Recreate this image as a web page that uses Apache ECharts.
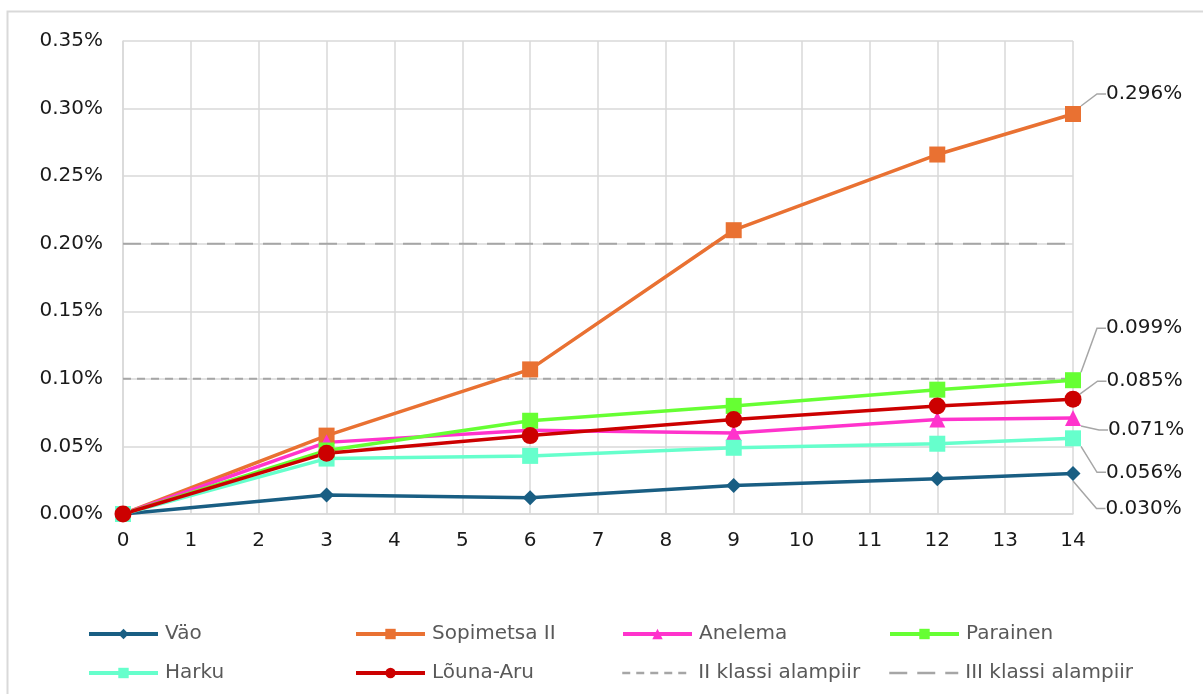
<!DOCTYPE html>
<html>
<head>
<meta charset="utf-8">
<script src="https://cdn.jsdelivr.net/npm/echarts@6/dist/echarts.min.js"></script>
<style>
  html, body { margin: 0; padding: 0; background: #ffffff; }
  #chart { width: 1203px; height: 694px; }
</style>
</head>
<body>
<div id="chart"></div>
<script>
// Measurement days (x) and concentration values in percent (y)
const days = [0, 3, 6, 9, 12, 14];
const vao        = [0, 0.014, 0.012, 0.021, 0.026, 0.030];
const sopimetsa  = [0, 0.058, 0.107, 0.210, 0.266, 0.296];
const anelema    = [0, 0.053, 0.062, 0.060, 0.070, 0.071];
const parainen   = [0, 0.047, 0.069, 0.080, 0.092, 0.099];
const harku      = [0, 0.041, 0.043, 0.049, 0.052, 0.056];
const lounaAru   = [0, 0.045, 0.058, 0.070, 0.080, 0.085];

// Class thresholds
const class2Limit = 0.10;
const class3Limit = 0.20;
const xRange = [0, 14];

const seriesNames = ['Väo', 'Sopimetsa II', 'Anelema', 'Parainen', 'Harku', 'Lõuna-Aru',
  'II klassi alampiir', 'III klassi alampiir'];
const limitNames = ['II klassi alampiir', 'III klassi alampiir'];

const FONT = 'DejaVu Sans';
const TEXT = '#1a1a1a';
const FS = 20;

// Offsets of the end-value callouts relative to their default spot
const calloutOffset = {
  'Väo': [20, 35],
  'Sopimetsa II': [20, -20],
  'Anelema': [22, 12],
  'Parainen': [20, -52],
  'Harku': [20, 34],
  'Lõuna-Aru': [20, -18]
};

function pairs(values) {
  return values.map((v, i) => {
    const item = { value: [days[i], v] };
    if (i === values.length - 1) item.label = { show: true };
    return item;
  });
}

function lineSeries(name, values, color, symbol, size) {
  return {
    name: name,
    type: 'line',
    data: pairs(values),
    symbol: symbol,
    symbolSize: size,
    showAllSymbol: true,
    lineStyle: { color: color, width: 3.5 },
    itemStyle: { color: color },
    z: 3,
    label: {
      show: false,
      position: 'right',
      distance: 5,
      fontFamily: FONT,
      fontSize: FS,
      color: TEXT,
      formatter: p => p.value[1].toFixed(3) + '%'
    },
    labelLine: {
      show: true,
      length2: 9,
      lineStyle: { color: '#a6a6a6', width: 1.5 }
    },
    labelLayout: function () {
      const o = calloutOffset[name];
      return { dx: o[0], dy: o[1] };
    },
    emphasis: { disabled: true }
  };
}

function limitSeries(name, value, dash) {
  return {
    name: name,
    type: 'line',
    data: [[xRange[0], value], [xRange[1], value]],
    symbol: 'none',
    lineStyle: { color: '#a6a6a6', width: 2, type: dash },
    itemStyle: { color: '#a6a6a6' },
    z: 2,
    silent: true
  };
}

// Legend laid out as a 4-column grid
const colX = [87, 354, 621, 888];
const rowY = [624, 663];
const legends = seriesNames.map((n, i) => {
  const isLimit = limitNames.indexOf(n) >= 0;
  return {
    data: [isLimit
      ? { name: n, itemStyle: { opacity: 0 }, lineStyle: { width: 2.5 } }
      : { name: n, lineStyle: { width: 4 } }],
    left: colX[i % 4],
    top: rowY[Math.floor(i / 4)],
    padding: 0,
    itemWidth: 69,
    itemHeight: 13,
    itemGap: 0,
    selectedMode: false,
    textStyle: { fontFamily: FONT, fontSize: FS, color: '#595959', padding: [0, 0, 0, 2] }
  };
});

const chart = echarts.init(document.getElementById('chart'), null, { renderer: 'canvas' });

chart.setOption({
  animation: false,
  backgroundColor: '#ffffff',
  graphic: [{
    type: 'rect',
    silent: true,
    z: -10,
    shape: { x: 7.5, y: 11.5, width: 1260, height: 760 },
    style: { fill: 'none', stroke: '#d9d9d9', lineWidth: 2 }
  }],
  grid: { left: 123, right: 130, top: 41, bottom: 180, containLabel: false },
  legend: legends,
  xAxis: {
    type: 'value',
    min: xRange[0],
    max: xRange[1],
    interval: 1,
    axisLine: { show: true, lineStyle: { color: '#d9d9d9', width: 1.5 } },
    axisTick: { show: false },
    splitLine: { show: true, lineStyle: { color: '#d9d9d9', width: 1.5 } },
    axisLabel: { fontFamily: FONT, fontSize: FS, color: TEXT, margin: 17 }
  },
  yAxis: {
    type: 'value',
    min: 0,
    max: 0.35,
    interval: 0.05,
    axisLine: { show: true, lineStyle: { color: '#d9d9d9', width: 1.5 } },
    axisTick: { show: false },
    splitLine: { show: true, lineStyle: { color: '#d9d9d9', width: 1.5 } },
    axisLabel: {
      fontFamily: FONT, fontSize: FS, color: TEXT, margin: 20,
      formatter: v => v.toFixed(2) + '%'
    }
  },
  series: [
    lineSeries('Väo', vao, '#195e83', 'diamond', 15),
    lineSeries('Sopimetsa II', sopimetsa, '#e97132', 'rect', 16),
    lineSeries('Anelema', anelema, '#ff33cc', 'triangle', 16),
    lineSeries('Parainen', parainen, '#66ff33', 'rect', 16),
    lineSeries('Harku', harku, '#66ffcc', 'rect', 16),
    lineSeries('Lõuna-Aru', lounaAru, '#cc0000', 'circle', 17),
    limitSeries('II klassi alampiir', class2Limit, [8, 6]),
    limitSeries('III klassi alampiir', class3Limit, [18, 10])
  ]
});
</script>
</body>
</html>
